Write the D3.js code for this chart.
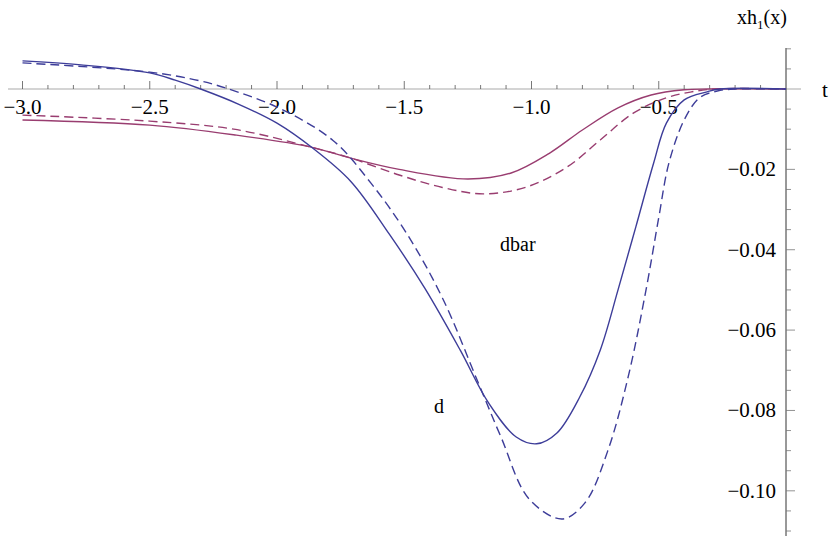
<!DOCTYPE html>
<html>
<head>
<meta charset="utf-8">
<script src="https://cdn.jsdelivr.net/npm/d3@7"></script>
<style>
  body { margin: 0; background: #fff; }
</style>
</head>
<body>
<svg id="chart" width="830" height="536" font-family="Liberation Serif, DejaVu Serif, serif"></svg>
<script>
// values
const dSolidT = [-3.0, -2.77, -2.5, -2.4, -2.3, -2.15, -2.0, -1.86, -1.71, -1.56, -1.42, -1.28, -1.17, -1.06, -0.98, -0.9, -0.81, -0.73, -0.66, -0.59, -0.52, -0.47, -0.4, -0.31, -0.26, 0];
const dSolidV = [0.0070, 0.0060, 0.0040, 0.0022, 0, -0.0038, -0.0085, -0.0147, -0.0230, -0.0360, -0.0495, -0.0650, -0.0780, -0.0866, -0.0883, -0.0856, -0.0766, -0.0650, -0.0500, -0.0343, -0.0184, -0.0085, -0.0027, -0.0007, 0, 0];
const dDashT = [-3.0, -2.5, -2.3, -2.2, -2.0, -1.78, -1.63, -1.49, -1.35, -1.21, -1.12, -1.01, -0.88, -0.79, -0.7, -0.62, -0.55, -0.5, -0.46, -0.4, -0.34, -0.27, -0.2, 0];
const dDashV = [0.0065, 0.0042, 0.0020, 0.0002, -0.0045, -0.0128, -0.0235, -0.0360, -0.0520, -0.0730, -0.0866, -0.1020, -0.1070, -0.1030, -0.0900, -0.0716, -0.0500, -0.0320, -0.0184, -0.0077, -0.0022, -0.0005, 0, 0];
const dbarSolidT = [-3.0, -2.5, -2.17, -1.87, -1.71, -1.52, -1.25, -1.08, -0.93, -0.8, -0.66, -0.53, -0.4, -0.3, 0];
const dbarSolidV = [-0.0077, -0.0090, -0.0114, -0.0144, -0.0172, -0.0200, -0.0224, -0.0209, -0.0160, -0.0102, -0.0047, -0.0015, -0.0002, 0, 0];
const dbarDashT = [-3.0, -2.5, -2.17, -1.87, -1.71, -1.52, -1.35, -1.19, -1.02, -0.86, -0.73, -0.6, -0.47, -0.37, -0.28, 0];
const dbarDashV = [-0.0065, -0.0080, -0.0100, -0.0144, -0.0172, -0.0214, -0.0245, -0.0261, -0.0244, -0.0194, -0.0127, -0.0060, -0.0022, -0.0007, 0, 0];

const xMajor = [-3.0, -2.5, -2.0, -1.5, -1.0, -0.5];
const yMajor = [-0.02, -0.04, -0.06, -0.08, -0.10];

const blue = "#3d3d99", red = "#993d70";

const svg = d3.select("#chart");
const x = d3.scaleLinear().domain([-3.0, 0]).range([22.5, 786]);
const y = d3.scaleLinear().domain([0, -0.11]).range([89, 531]);

// x axis (gray line, ticks upward)
svg.append("line").attr("x1", 8).attr("x2", 801).attr("y1", y(0)).attr("y2", y(0))
  .attr("stroke", "#aaa").attr("stroke-width", 1.2);
d3.range(-3.0, -0.05, 0.1).forEach(t => {
  const major = Math.abs(t * 2 - Math.round(t * 2)) < 1e-6;
  svg.append("line").attr("x1", x(t)).attr("x2", x(t))
    .attr("y1", y(0)).attr("y2", y(0) - (major ? 8 : 4))
    .attr("stroke", "#555").attr("stroke-width", 0.8);
});
xMajor.forEach(t => {
  svg.append("text").attr("x", x(t)).attr("y", y(0) + 25)
    .attr("text-anchor", "middle").attr("font-size", 21)
    .text(d3.format(".1f")(t).replace("-", "\u2212"));
});
svg.append("text").attr("x", 822).attr("y", 97).attr("font-size", 21).text("t");

// y axis (black, ticks right)
svg.append("line").attr("x1", x(0)).attr("x2", x(0)).attr("y1", 48).attr("y2", 536)
  .attr("stroke", "#333").attr("stroke-width", 1);
d3.range(0.010, -0.1126, -0.005).forEach(v => {
  if (Math.abs(v) < 1e-9) return;
  const major = Math.abs(v * 50 - Math.round(v * 50)) < 1e-6;
  svg.append("line").attr("x1", x(0)).attr("x2", x(0) + (major ? 9 : 5))
    .attr("y1", y(v)).attr("y2", y(v))
    .attr("stroke", "#777").attr("stroke-width", 0.8);
});
yMajor.forEach(v => {
  svg.append("text").attr("x", x(0) - 10).attr("y", y(v) + 7)
    .attr("text-anchor", "end").attr("font-size", 21)
    .text(d3.format(".2f")(v).replace("-", "\u2212"));
});
const yl = svg.append("text").attr("x", 737).attr("y", 24).attr("font-size", 20);
yl.append("tspan").text("xh");
yl.append("tspan").attr("font-size", 13).attr("dy", 5).text("1");
yl.append("tspan").attr("dy", -5).text("(x)");

// curves
const line = d3.line().x(d => x(d[0])).y(d => y(d[1])).curve(d3.curveCatmullRom.alpha(0.5));
const series = [
  [dbarSolidT, dbarSolidV, red, null],
  [dbarDashT, dbarDashV, red, "9,5"],
  [dSolidT, dSolidV, blue, null],
  [dDashT, dDashV, blue, "9,5"]
];
series.forEach(([ts, vs, c, dash]) => {
  svg.append("path").datum(d3.zip(ts, vs))
    .attr("d", line).attr("fill", "none")
    .attr("stroke", c).attr("stroke-width", 1.4)
    .attr("stroke-dasharray", dash);
});

svg.append("text").attr("x", 500).attr("y", 251).attr("font-size", 20).text("dbar");
svg.append("text").attr("x", 434).attr("y", 413).attr("font-size", 20).text("d");
</script>
</body>
</html>
